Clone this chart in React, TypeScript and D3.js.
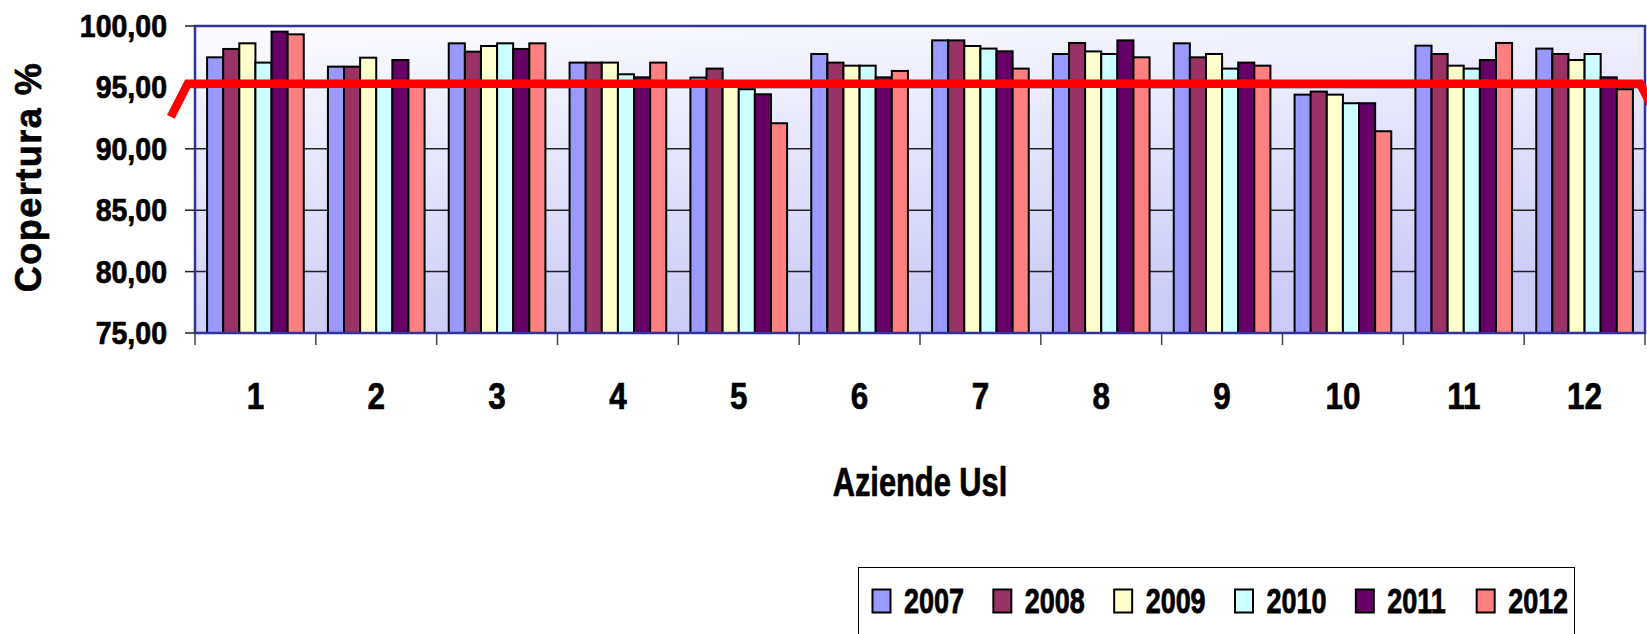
import * as d3 from 'd3';

const categories = ['1', '2', '3', '4', '5', '6', '7', '8', '9', '10', '11', '12'];
const years = ['2007', '2008', '2009', '2010', '2011', '2012'];

const v2007 = [97.45, 96.69, 98.59, 97.02, 95.8, 97.72, 98.83, 97.72, 98.59, 94.41, 98.4, 98.16];
const v2008 = [98.13, 96.69, 97.91, 97.02, 96.53, 97.02, 98.83, 98.62, 97.45, 94.66, 97.72, 97.72];
const v2009 = [98.59, 97.42, 98.37, 97.02, 95.5, 96.77, 98.37, 97.93, 97.72, 94.41, 96.77, 97.23];
const v2010 = [97.02, 95.3, 98.59, 96.07, 94.85, 96.77, 98.16, 97.72, 96.53, 93.71, 96.53, 97.72];
const v2011 = [99.54, 97.23, 98.13, 95.82, 94.44, 95.82, 97.94, 98.83, 97.02, 93.71, 97.23, 95.82];
const v2012 = [99.32, 95.4, 98.59, 97.02, 92.08, 96.34, 96.53, 97.45, 96.77, 91.43, 98.62, 94.85];
const series = [v2007, v2008, v2009, v2010, v2011, v2012];

// soglia (red line), positions in category units
const targetPos = [-0.2, -0.06, 11.96, 12.1];
const targetVal = [92.6, 95.3, 95.3, 92.6];

const yTicks = [75, 80, 85, 90, 95, 100];
const colors = ['#9999ff', '#993366', '#ffffcc', '#ccffff', '#660066', '#ff8080'];

const W = 1647;
const H = 634;
const left = 195;
const right = 1645;
const top = 26;
const bottom = 333;
const FONT = '"Liberation Sans", Arial, sans-serif';

export default function App() {
  const x0 = d3.scaleBand().domain(categories).range([left, right]).paddingInner(0.2).paddingOuter(0.1);
  const x1 = d3.scaleBand().domain(years).range([0, x0.bandwidth()]);
  const xu = d3.scaleLinear().domain([0, categories.length]).range([left, right]);
  const y = d3.scaleLinear().domain([75, 100]).range([bottom, top]);
  const step = x0.step();

  const line = d3
    .line<number>()
    .x((d) => xu(d))
    .y((_, i) => y(targetVal[i]));

  const fmt = (v: number) => d3.format('.2f')(v).replace('.', ',');

  return (
    <svg width={W} height={H} style={{ position: 'absolute', left: 0, top: 0 }} fontFamily={FONT}>
      <defs>
        <linearGradient id="bg" x1="0" y1="0" x2="0.25" y2="1">
          <stop offset="0" stopColor="#fcfcff" />
          <stop offset="1" stopColor="#cbcbf7" />
        </linearGradient>
      </defs>
      <rect width={W} height={H} fill="#fff" />
      <rect x={left} y={top} width={right - left} height={bottom - top} fill="url(#bg)" />

      {yTicks.slice(1, -1).map((t) => (
        <line key={t} x1={left} x2={right} y1={y(t)} y2={y(t)} stroke="#222" strokeWidth={1.5} />
      ))}

      {categories.map((c, ci) => (
        <g key={c} transform={`translate(${x0(c)},0)`}>
          {years.map((yr, si) => (
            <rect
              key={yr}
              x={x1(yr)}
              y={y(series[si][ci])}
              width={x1.bandwidth()}
              height={bottom - y(series[si][ci])}
              fill={colors[si]}
              stroke="#000"
              strokeWidth={2}
            />
          ))}
        </g>
      ))}

      <rect x={left} y={top} width={right - left} height={bottom - top} fill="none" stroke="#333399" strokeWidth={2.5} />

      <g stroke="#000" strokeWidth={0.7}>
        {yTicks.map((t) => (
          <g key={t}>
            <line x1={left - 10} x2={left} y1={y(t)} y2={y(t)} stroke="#222" strokeWidth={1.5} />
            <text
              transform={`translate(167,${y(t) + 11}) scale(0.92,1)`}
              textAnchor="end"
              fontSize={31}
              fontWeight="bold"
            >
              {fmt(t)}
            </text>
          </g>
        ))}

        {d3.range(categories.length + 1).map((i) => (
          <line key={i} x1={xu(i)} x2={xu(i)} y1={bottom} y2={bottom + 12} stroke="#444" strokeWidth={1.5} />
        ))}
        {categories.map((c) => (
          <text
            key={c}
            transform={`translate(${(x0(c) || 0) + x0.bandwidth() / 2},409) scale(0.85,1)`}
            textAnchor="middle"
            fontSize={37}
            fontWeight="bold"
          >
            {c}
          </text>
        ))}

        <text transform="translate(920,496) scale(0.77,1)" textAnchor="middle" fontSize={40} fontWeight="bold">
          Aziende Usl
        </text>
        <text
          transform="translate(41,177) rotate(-90)"
          textAnchor="middle"
          fontSize={36}
          fontWeight="bold"
          letterSpacing={1.5}
        >
          Copertura %
        </text>
      </g>

      <path
        d={line(targetPos) || ''}
        fill="none"
        stroke="#ff0000"
        strokeWidth={8.5}
        strokeLinejoin="miter"
      />

      <rect x={858.5} y={567.5} width={716} height={100} fill="#fff" stroke="#000" strokeWidth={1} />
      {years.map((yr, i) => (
        <g key={yr} transform={`translate(${872.5 + i * step},0)`}>
          <rect x={0} y={589.5} width={18} height={23} fill={colors[i]} stroke="#000" strokeWidth={2} />
          <text transform="translate(31.5,613) scale(0.77,1)" fontSize={35} fontWeight="bold" stroke="#000" strokeWidth={0.8}>
            {yr}
          </text>
        </g>
      ))}
    </svg>
  );
}
